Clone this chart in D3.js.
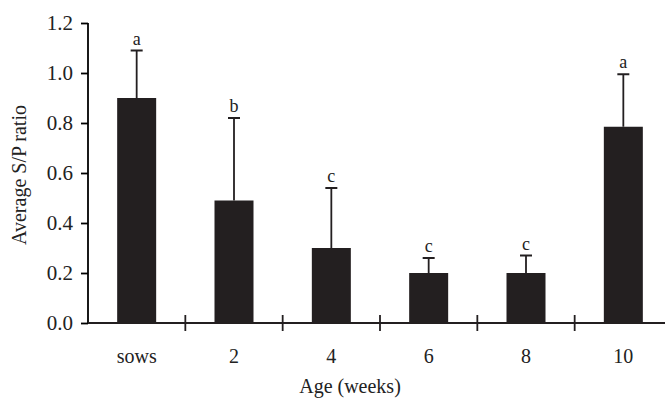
<!DOCTYPE html>
<html>
<head>
<meta charset="utf-8">
<script src="https://cdn.jsdelivr.net/npm/d3@7"></script>
<style>
  body { margin: 0; background: #fff; }
  text { font-family: "Liberation Serif", "Times New Roman", serif; fill: #222; }
</style>
</head>
<body>
<script>
;(() => {
    var width = 665, height = 398;

    // data
    var categories = ['sows', '2', '4', '6', '8', '10'];
    var means = [0.90, 0.49, 0.30, 0.20, 0.20, 0.785];
    var upper = [1.09, 0.82, 0.54, 0.26, 0.27, 0.995]; // top of the error bars
    var letters = ['a', 'b', 'c', 'c', 'c', 'a'];
    var yTicks = [0, 0.2, 0.4, 0.6, 0.8, 1.0, 1.2];

    var left = 88, top = 23, bottom = 323, right = 672;

    var svg = d3.select('body').append('svg')
        .attr('width', width)
        .attr('height', height);

    var x = d3.scaleBand().domain(categories).range([left, right]).paddingInner(0).paddingOuter(0);
    var y = d3.scaleLinear().domain([0, 1.2]).range([bottom, top]);
    var barW = 39;

    // bars
    svg.selectAll('rect.bar')
        .data(categories)
        .enter()
        .append('rect')
        .attr('class', 'bar')
        .attr('x', (d) => x(d) + x.bandwidth() / 2 - barW / 2)
        .attr('y', (d, i) => y(means[i]))
        .attr('width', barW)
        .attr('height', (d, i) => y(0) - y(means[i]))
        .attr('fill', '#231f20');

    // error bars
    var err = svg.selectAll('g.err')
        .data(categories)
        .enter()
        .append('g')
        .attr('class', 'err')
        .attr('transform', (d) => 'translate(' + (x(d) + x.bandwidth() / 2) + ',0)');
    err.append('line')
        .attr('x1', 0).attr('x2', 0)
        .attr('y1', (d, i) => y(means[i]))
        .attr('y2', (d, i) => y(upper[i]))
        .attr('stroke', '#231f20')
        .attr('stroke-width', 1.8);
    err.append('line')
        .attr('x1', -6).attr('x2', 6)
        .attr('y1', (d, i) => y(upper[i]))
        .attr('y2', (d, i) => y(upper[i]))
        .attr('stroke', '#231f20')
        .attr('stroke-width', 2);
    err.append('text')
        .attr('y', (d, i) => y(upper[i]) - 6)
        .attr('text-anchor', 'middle')
        .attr('font-size', 18)
        .text((d, i) => letters[i]);

    // y axis
    var yAxis = svg.append('g')
        .attr('transform', 'translate(' + left + ',0)')
        .call(d3.axisLeft(y).tickValues(yTicks).tickFormat(d3.format('.1f')).tickSize(7).tickPadding(8));
    yAxis.select('.domain').attr('d', 'M0,' + top + 'V' + bottom).attr('stroke-width', 1.8);
    yAxis.selectAll('.tick line').attr('stroke-width', 1.8);
    yAxis.selectAll('.tick text')
        .attr('font-family', '"Liberation Serif", serif')
        .attr('font-size', 21)
        .attr('fill', '#222');

    // x axis
    svg.append('line')
        .attr('x1', left).attr('x2', width)
        .attr('y1', bottom).attr('y2', bottom)
        .attr('stroke', '#231f20')
        .attr('stroke-width', 1.8);
    svg.selectAll('line.xtick')
        .data(categories.slice(1))
        .enter()
        .append('line')
        .attr('class', 'xtick')
        .attr('x1', (d) => x(d)).attr('x2', (d) => x(d))
        .attr('y1', bottom - 8).attr('y2', bottom + 8)
        .attr('stroke', '#231f20')
        .attr('stroke-width', 1.8);
    svg.selectAll('text.xlab')
        .data(categories)
        .enter()
        .append('text')
        .attr('class', 'xlab')
        .attr('x', (d) => x(d) + x.bandwidth() / 2)
        .attr('y', 363)
        .attr('text-anchor', 'middle')
        .attr('font-size', 20)
        .text((d) => d);

    // axis titles
    svg.append('text')
        .attr('x', 350)
        .attr('y', 393)
        .attr('text-anchor', 'middle')
        .attr('font-size', 20)
        .text('Age (weeks)');
    svg.append('text')
        .attr('transform', 'translate(26,175) rotate(-90)')
        .attr('text-anchor', 'middle')
        .attr('font-size', 20)
        .text('Average S/P ratio');
})();
</script>
</body>
</html>
